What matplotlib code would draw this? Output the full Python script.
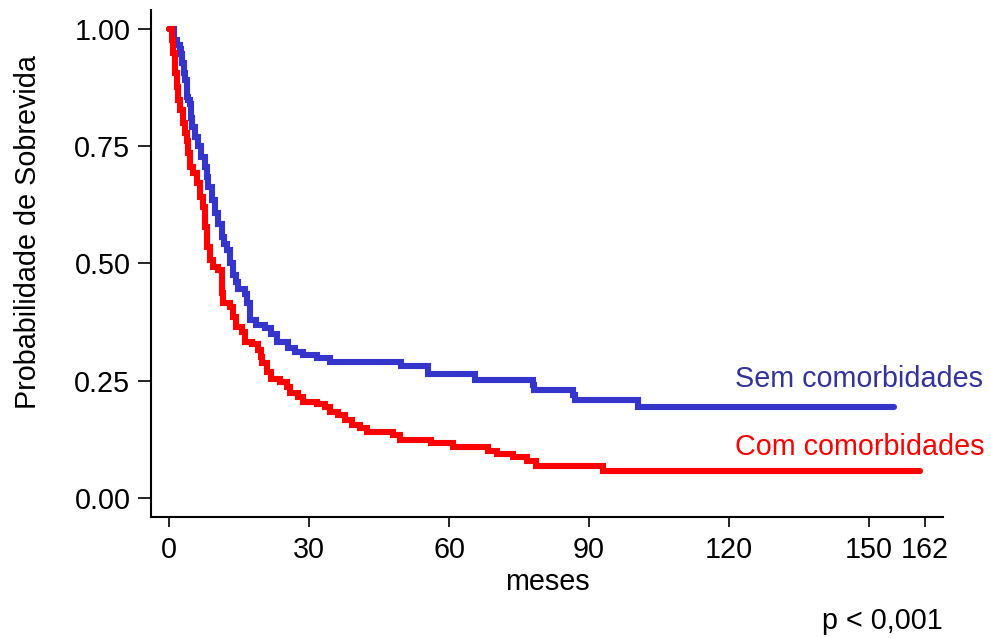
import matplotlib
matplotlib.use("Agg")
import matplotlib.pyplot as plt

plt.rcParams['font.family'] = ['Liberation Sans', 'DejaVu Sans']

# Kaplan-Meier - Sem comorbidades (tempo em meses, sobrevida)
t_sem = [0, 1.0, 1.6, 2.2, 2.5, 2.8, 3.2, 3.4, 3.7, 4.1, 4.4, 4.7, 4.8, 5.5, 6.1,
         6.9, 7.6, 8.0, 8.3, 9.1, 9.8, 10.5, 11.2, 11.8, 12.3, 13.0, 13.7, 14.4,
         14.7, 16.2, 16.6, 17.3, 18.7, 20.5, 21.9, 23.0, 25.4, 26.9, 28.7, 31.6,
         34.4, 49.6, 55.4, 65.5, 77.9, 78.3, 86.5, 86.9, 100.4, 155.5]
s_sem = [1.0, 0.975, 0.965, 0.956, 0.945, 0.926, 0.905, 0.89, 0.855, 0.848, 0.84,
         0.81, 0.79, 0.77, 0.75, 0.727, 0.705, 0.685, 0.663, 0.635, 0.607, 0.585,
         0.557, 0.542, 0.528, 0.50, 0.475, 0.46, 0.445, 0.435, 0.415, 0.38, 0.369,
         0.362, 0.351, 0.333, 0.321, 0.312, 0.305, 0.298, 0.290, 0.282, 0.264,
         0.253, 0.241, 0.231, 0.220, 0.209, 0.195, 0.195]

# Kaplan-Meier - Com comorbidades
t_com = [0, 0.5, 0.9, 1.2, 1.6, 1.9, 2.3, 2.9, 3.4, 3.7, 4.1, 4.4, 5.1, 5.9, 6.6,
         7.3, 7.6, 8.0, 8.7, 9.4, 10.4, 11.2, 11.6, 13.0, 13.7, 14.4, 15.5, 16.2,
         17.7, 19.1, 19.6, 19.8, 20.9, 21.9, 23.7, 25.2, 25.9, 27.6, 28.7, 31.6,
         33.4, 34.4, 36.2, 37.6, 39.1, 40.9, 42.3, 47.9, 49.4, 56.2, 60.9, 68.4,
         70.2, 73.7, 76.6, 78.7, 93.0, 161.0]
s_com = [1.0, 0.975, 0.947, 0.905, 0.876, 0.848, 0.827, 0.798, 0.777, 0.760, 0.735,
         0.706, 0.692, 0.671, 0.642, 0.621, 0.578, 0.536, 0.507, 0.493, 0.486, 0.437,
         0.415, 0.408, 0.387, 0.365, 0.355, 0.333, 0.328, 0.316, 0.300, 0.289, 0.269,
         0.255, 0.248, 0.238, 0.224, 0.216, 0.206, 0.202, 0.195, 0.184, 0.177, 0.167,
         0.156, 0.149, 0.142, 0.135, 0.125, 0.117, 0.110, 0.102, 0.094, 0.089, 0.080,
         0.070, 0.058, 0.058]

x_ticks = [0, 30, 60, 90, 120, 150, 162]
y_ticks = [0, 0.25, 0.5, 0.75, 1.0]

blue = '#3535CC'
red = '#FF0000'
fs = 20.7

fig = plt.figure(figsize=(9.91, 6.38), dpi=100)
ax = fig.add_axes([0.152, 0.190, 0.800, 0.794])

ax.plot(t_sem, s_sem, drawstyle='steps-post', color=blue, lw=4.4,
        solid_capstyle='round', solid_joinstyle='miter')
ax.plot(t_com, s_com, drawstyle='steps-post', color=red, lw=4.4,
        solid_capstyle='round', solid_joinstyle='miter')

ax.text(121.2, 0.2375, 'Sem comorbidades', color='#333399', fontsize=fs,
        ha='left', va='baseline')
ax.text(121.2, 0.092, 'Com comorbidades', color=red, fontsize=fs,
        ha='left', va='baseline')

ax.set_xlim(-4, 166)
ax.set_ylim(-0.039, 1.039)
ax.set_xticks(x_ticks)
ax.set_yticks(y_ticks)
ax.set_yticklabels(['%.2f' % v for v in y_ticks])
ax.tick_params(axis='x', length=7, width=1.2, pad=7, labelsize=fs)
ax.tick_params(axis='y', length=9.5, width=1.2, pad=5, labelsize=fs)

for side in ['top', 'right']:
    ax.spines[side].set_visible(False)
for side in ['left', 'bottom']:
    ax.spines[side].set_linewidth(1.5)

ax.set_xlabel('meses', fontsize=fs, labelpad=3)
fig.text(28 / 991, 1 - 232 / 638, 'Probabilidade de Sobrevida', rotation=90,
         fontsize=fs, ha='center', va='center')
fig.text(943 / 991, 1 - 621 / 638, 'p < 0,001', fontsize=fs, ha='right',
         va='center')

fig.savefig('out.png', dpi=100)
